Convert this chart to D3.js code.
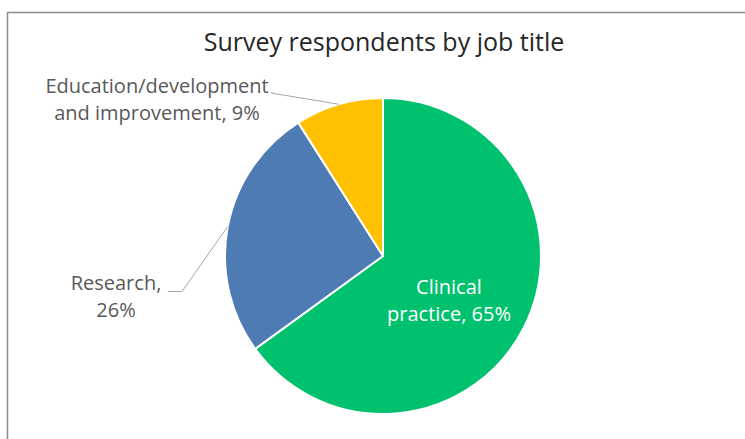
<!DOCTYPE html>
<html>
<head>
<meta charset="utf-8">
<script src="https://cdn.jsdelivr.net/npm/d3@7"></script>
<style>
  html, body { margin: 0; padding: 0; background: #fff; }
  svg { display: block; }
  text { font-family: "Open Sans", "Noto Sans", "DejaVu Sans", sans-serif; }
</style>
</head>
<body>
<svg id="chart" width="745" height="439"></svg>
<script>
// Survey respondents grouped by job title (share of all respondents, %)
const categories = ["Clinical practice", "Research", "Education/development and improvement"];
const shares = [65, 26, 9];
const sliceColors = ["#00C16E", "#4F7BB5", "#FFC000"];
const chartTitle = "Survey respondents by job title";

const W = 745, H = 439;
const svg = d3.select("#chart");

// Chart frame (runs off the right and bottom edges)
svg.append("rect")
  .attr("x", 7.5).attr("y", 12.5)
  .attr("width", W).attr("height", H)
  .attr("fill", "#fff")
  .attr("stroke", "#8c8c8c").attr("stroke-width", 1.5);

svg.append("text")
  .attr("x", 384).attr("y", 51)
  .attr("text-anchor", "middle")
  .attr("font-size", 25)
  .attr("fill", "#262626")
  .text(chartTitle);

const cx = 383, cy = 256, R = 158;
const data = categories.map((c, i) => ({ name: c, value: shares[i], color: sliceColors[i] }));

const pie = d3.pie().value(d => d.value).sort(null);
const arc = d3.arc().innerRadius(0).outerRadius(R);
const arcs = pie(data);

const g = svg.append("g").attr("transform", `translate(${cx},${cy})`);

g.selectAll("path")
  .data(arcs)
  .join("path")
  .attr("d", arc)
  .attr("fill", d => d.data.color)
  .attr("stroke", "#fff")
  .attr("stroke-width", 2)
  .attr("stroke-linejoin", "round");

// Point on the rim at the middle of a slice
function rimPoint(a, r) {
  const m = (a.startAngle + a.endAngle) / 2;
  return [Math.sin(m) * r, -Math.cos(m) * r];
}

const labelColor = "#595959";
const fs = 20;

// Clinical practice: inside the slice, white
g.append("text")
  .attr("text-anchor", "middle").attr("font-size", fs).attr("fill", "#fff")
  .selectAll("tspan")
  .data(["Clinical", `practice, ${shares[0]}%`])
  .join("tspan")
  .attr("x", 449 - cx)
  .attr("y", (d, i) => 294 - cy + i * 27)
  .text(d => d);

// Research: outside left with leader line
const rp = rimPoint(arcs[1], R);
g.append("polyline")
  .attr("points", [[168 - cx, 291.5 - cy], [182 - cx, 291.5 - cy], rp].map(p => p.join(",")).join(" "))
  .attr("fill", "none").attr("stroke", "#a6a6a6").attr("stroke-width", 1);
g.append("text")
  .attr("text-anchor", "middle").attr("font-size", fs).attr("fill", labelColor)
  .selectAll("tspan")
  .data(["Research,", `${shares[1]}%`])
  .join("tspan")
  .attr("x", 116 - cx)
  .attr("y", (d, i) => 290 - cy + i * 27)
  .text(d => d);

// Education: outside top-left with leader line
const ep = rimPoint(arcs[2], R);
g.append("polyline")
  .attr("points", [[271 - cx, 93 - cy], ep].map(p => p.join(",")).join(" "))
  .attr("fill", "none").attr("stroke", "#a6a6a6").attr("stroke-width", 1);
g.append("text")
  .attr("text-anchor", "middle").attr("font-size", fs).attr("fill", labelColor)
  .selectAll("tspan")
  .data(["Education/development", `and improvement, ${shares[2]}%`])
  .join("tspan")
  .attr("x", 157 - cx)
  .attr("y", (d, i) => 93 - cy + i * 27)
  .text(d => d);
</script>
</body>
</html>
